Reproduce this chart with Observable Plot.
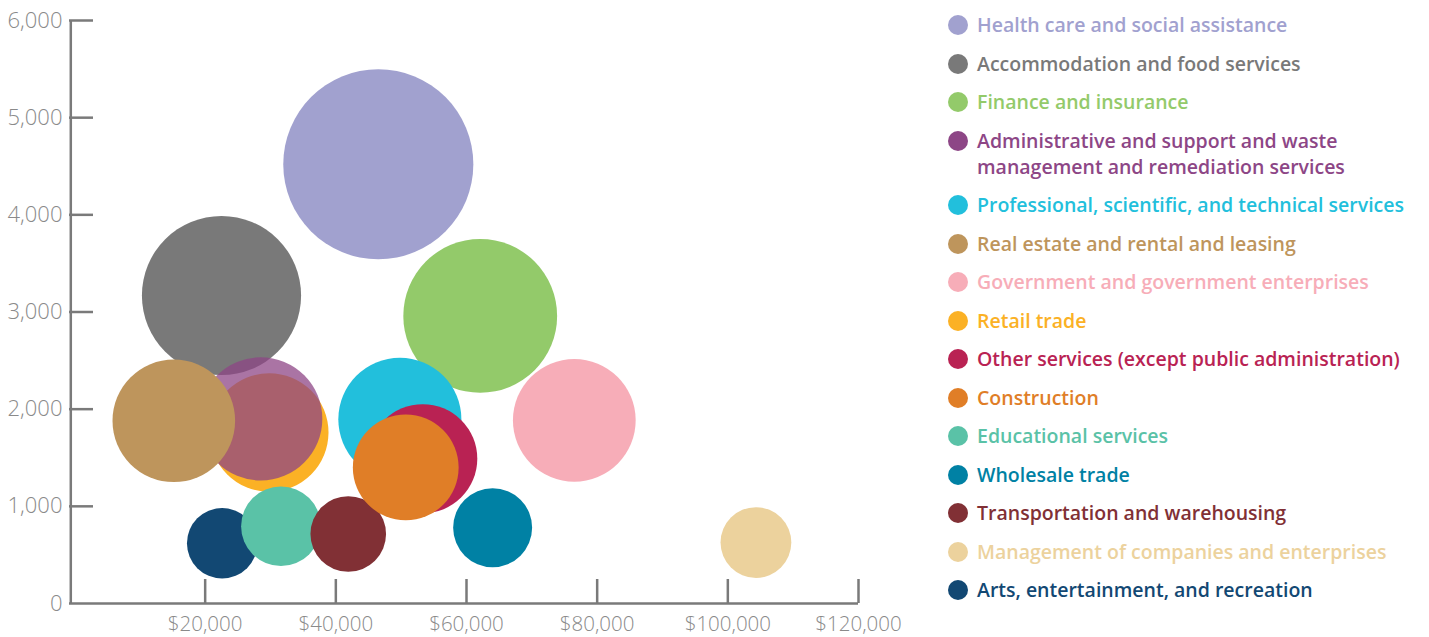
<!DOCTYPE html>
<html>
<head>
<meta charset="utf-8">
<script src="https://cdn.jsdelivr.net/npm/d3@7"></script>
<script src="https://cdn.jsdelivr.net/npm/@observablehq/plot@0.6"></script>
<style>
  html, body { margin: 0; padding: 0; background: #fff; }
  #wrap { position: relative; width: 1429px; height: 637px; overflow: hidden; }
  #chart { position: absolute; left: 0; top: 0; }
  #legend { position: absolute; left: 948px; top: 12px; font-family: "Open Sans", Lato, sans-serif; font-size: 19.5px; font-weight: 600; }
  .item { display: flex; align-items: flex-start; margin-bottom: 12.5px; }
  .dot { width: 20px; height: 20px; border-radius: 50%; margin-top: 3px; margin-right: 9px; flex: none; }
  .lab { line-height: 26px; white-space: pre; }
</style>
</head>
<body>
<div id="wrap">
  <div id="chart"></div>
  <div id="legend"></div>
</div>
<script>
const categories = [
  "Health care and social assistance",
  "Accommodation and food services",
  "Finance and insurance",
  "Administrative and support and waste management and remediation services",
  "Professional, scientific, and technical services",
  "Real estate and rental and leasing",
  "Government and government enterprises",
  "Retail trade",
  "Other services (except public administration)",
  "Construction",
  "Educational services",
  "Wholesale trade",
  "Transportation and warehousing",
  "Management of companies and enterprises",
  "Arts, entertainment, and recreation"
];
const legendLabels = [
  "Health care and social assistance",
  "Accommodation and food services",
  "Finance and insurance",
  "Administrative and support and waste\nmanagement and remediation services",
  "Professional, scientific, and technical services",
  "Real estate and rental and leasing",
  "Government and government enterprises",
  "Retail trade",
  "Other services (except public administration)",
  "Construction",
  "Educational services",
  "Wholesale trade",
  "Transportation and warehousing",
  "Management of companies and enterprises",
  "Arts, entertainment, and recreation"
];
// average earnings (x)
const earnings = [46500, 22500, 62100, 28500, 49800, 15200, 76500, 29800, 53300, 50700, 31600, 64000, 41900, 104300, 22600];
// count (y and bubble size)
const counts = [4520, 3170, 2960, 1900, 1895, 1880, 1885, 1760, 1490, 1400, 795, 780, 715, 627, 620];
const colors = ["#a1a1cf", "#797979", "#93ca6a", "#8d4686", "#22bfdc", "#be955c", "#f7adb8", "#fbb125", "#b92253", "#e07e27", "#5ac2a7", "#0081a4", "#813035", "#ecd29d", "#124873"];
const fillOpacities = [1, 1, 1, 0.75, 1, 1, 1, 1, 1, 1, 1, 1, 1, 1, 1];
const drawOrder = [
  "Accommodation and food services",
  "Finance and insurance",
  "Professional, scientific, and technical services",
  "Other services (except public administration)",
  "Retail trade",
  "Arts, entertainment, and recreation",
  "Educational services",
  "Transportation and warehousing",
  "Construction",
  "Administrative and support and waste management and remediation services",
  "Real estate and rental and leasing",
  "Health care and social assistance",
  "Government and government enterprises",
  "Wholesale trade",
  "Management of companies and enterprises"
];
const xTicks = [20000, 40000, 60000, 80000, 100000, 120000];
const yTicks = [0, 1000, 2000, 3000, 4000, 5000, 6000];

const data = categories.map((name, i) => ({name, x: earnings[i], y: counts[i], op: fillOpacities[i]}))
  .sort((a, b) => drawOrder.indexOf(a.name) - drawOrder.indexOf(b.name));

const axisColor = "#7a7a7a";
const W = 930, H = 637, mL = 74, mR = 72, mT = 20, mB = 34;
const frameW = W - mL - mR, frameH = H - mT - mB;

const chart = Plot.plot({
  width: W, height: H,
  marginLeft: mL, marginRight: mR, marginTop: mT, marginBottom: mB,
  style: {fontFamily: "'Open Sans', Lato, sans-serif", background: "transparent", overflow: "visible"},
  x: {domain: [0, 120000]},
  y: {domain: [0, 6000]},
  r: {type: "sqrt", domain: [0, 6000], range: [0, 109.5]},
  color: {domain: categories, range: colors},
  marks: [
    Plot.dot(data, {x: "x", y: "y", r: "y", fill: "name", fillOpacity: "op", stroke: null, sort: null}),
    Plot.ruleX([0], {stroke: axisColor, strokeWidth: 2.5, dx: -3.7}),
    Plot.ruleY([0], {stroke: axisColor, strokeWidth: 2.5, insetLeft: -5}),
    Plot.ruleY(yTicks.filter(v => v > 0), {stroke: axisColor, strokeWidth: 2.5, insetLeft: -5, insetRight: frameW - 19}),
    Plot.ruleX(xTicks, {stroke: axisColor, strokeWidth: 2.5, insetTop: frameH - 24}),
    Plot.axisY(yTicks, {tickSize: 0, tickPadding: 12, fontSize: 22, fontWeight: 300, fill: "#8a8a8a",
      tickFormat: d => d3.format(",")(d), label: null}),
    Plot.axisX(xTicks, {tickSize: 0, tickPadding: 13, fontSize: 20.5, fontWeight: 300, fill: "#8a8a8a",
      tickFormat: d => "$" + d3.format(",")(d), label: null})
  ]
});
document.getElementById("chart").appendChild(chart);

const legend = document.getElementById("legend");
categories.forEach((c, i) => {
  const item = document.createElement("div");
  item.className = "item";
  const dot = document.createElement("span");
  dot.className = "dot";
  dot.style.background = colors[i];
  const lab = document.createElement("span");
  lab.className = "lab";
  lab.style.color = colors[i];
  lab.textContent = legendLabels[i];
  item.appendChild(dot);
  item.appendChild(lab);
  legend.appendChild(item);
});
</script>
</body>
</html>
